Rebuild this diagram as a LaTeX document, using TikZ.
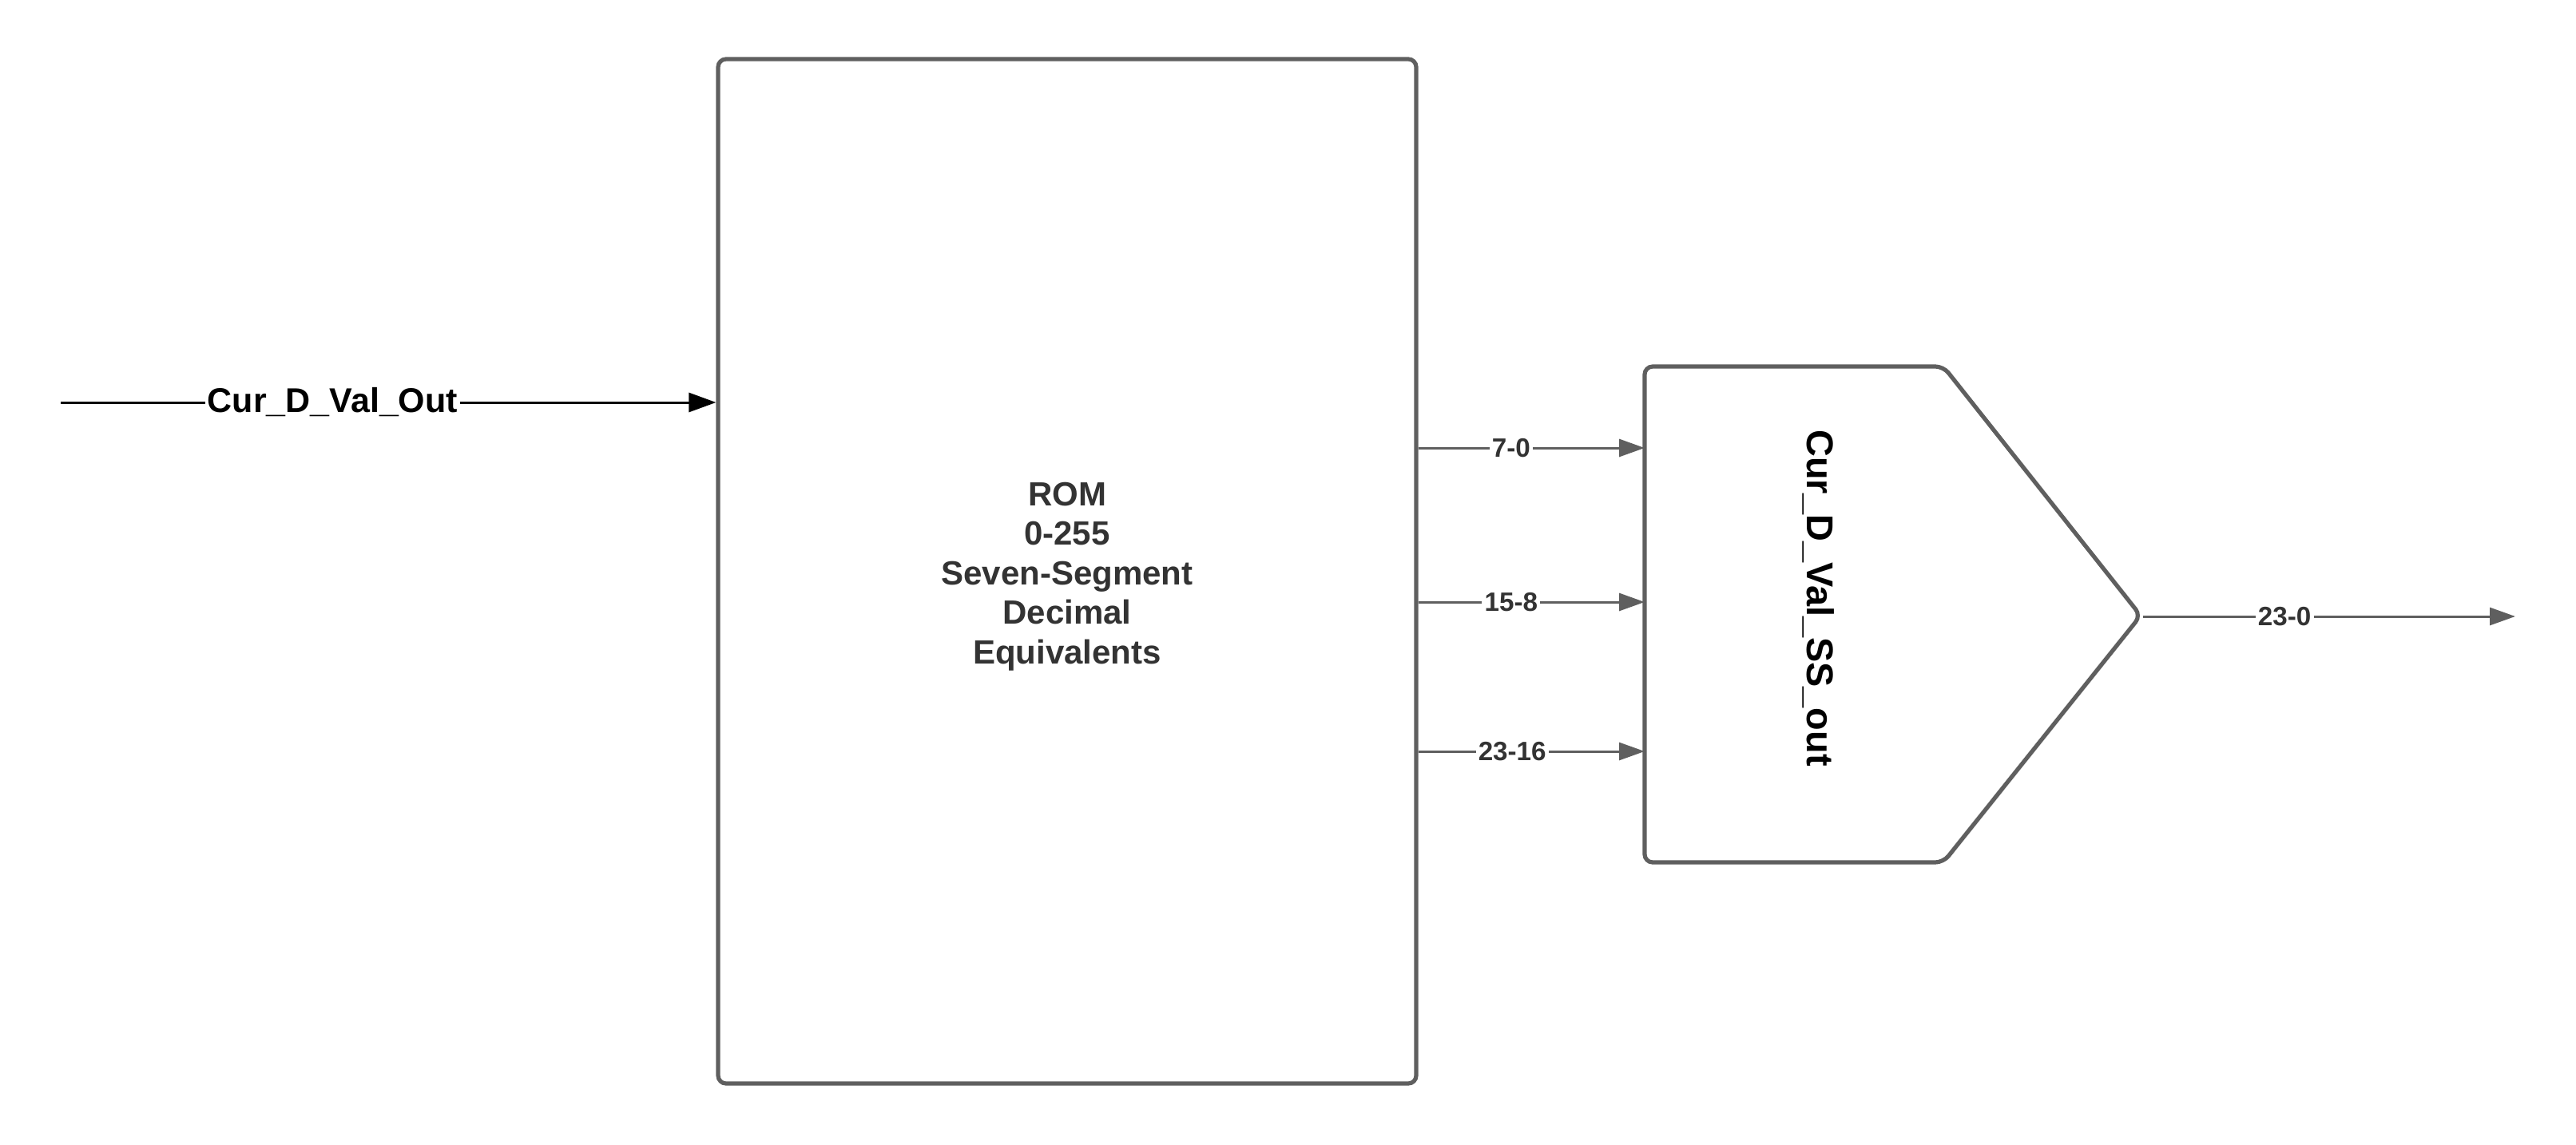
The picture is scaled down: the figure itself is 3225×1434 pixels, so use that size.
\documentclass[tikz,border=0pt]{standalone}
\usepackage{fontspec}
\setmainfont{Liberation Sans}
\usetikzlibrary{arrows.meta}
\definecolor{edge}{HTML}{5F5F5F}
\definecolor{txt}{HTML}{333333}
\begin{document}
\begin{tikzpicture}[x=0.25pt,y=-0.25pt,
  blockbox/.style={draw=edge,line width=1.3pt,rounded corners=2.5pt,inner sep=0pt,
    minimum width=218.5pt,minimum height=320.75pt},
  blocktext/.style={align=center,text=txt,inner sep=0pt,
    font=\fontsize{10.5}{12.4}\selectfont\bfseries},
  bus/.style={draw=edge,line width=0.75pt,-{Triangle[length=8pt,width=5.5pt]}},
  buslabel/.style={fill=white,inner sep=0.8pt,text=txt,font=\fontsize{8.3}{9}\selectfont\bfseries},
  inwire/.style={draw=black,line width=0.75pt,-{Triangle[length=8.5pt,width=6pt]}},
  inlabel/.style={fill=white,inner sep=0.8pt,text=black,font=\fontsize{10.75}{12}\selectfont\bfseries},
  muxtext/.style={rotate=-90,text=black,font=\fontsize{11.7}{13}\selectfont\bfseries}]
\useasboundingbox (0,0) rectangle (3225,1434);

% ROM block
\node[blockbox] (rom) at (1336,715.5) {};
\node[blocktext] (romtext) at (1336,722) {ROM\\0-255\\Seven-Segment\\Decimal\\Equivalents};

% Mux shape
\draw[edge,line width=1.3pt,rounded corners=2.5pt]
  (2059,459) -- (2433,459) -- (2680,771) -- (2433,1080) -- (2059,1080) -- cycle;
\node[muxtext] (muxlbl) at (2277,749) {Cur\_D\_Val\_SS\_out};

\coordinate (in) at (76,504);
\coordinate (m1) at (2059,561);
\coordinate (m2) at (2059,754);
\coordinate (m3) at (2059,941);
\coordinate (mo) at (2683,772);
\coordinate (out) at (3149,772);

% input
\draw[inwire] (in) -- node[inlabel,pos=0.415] {Cur\_D\_Val\_Out} (rom.west |- in);

% buses
\draw[bus] (rom.east |- m1) -- node[buslabel,pos=0.41] {7-0} (m1);
\draw[bus] (rom.east |- m2) -- node[buslabel,pos=0.41] {15-8} (m2);
\draw[bus] (rom.east |- m3) -- node[buslabel,pos=0.415] {23-16} (m3);

% output
\draw[bus] (mo) -- node[buslabel,pos=0.38] {23-0} (out);
\end{tikzpicture}
\end{document}
